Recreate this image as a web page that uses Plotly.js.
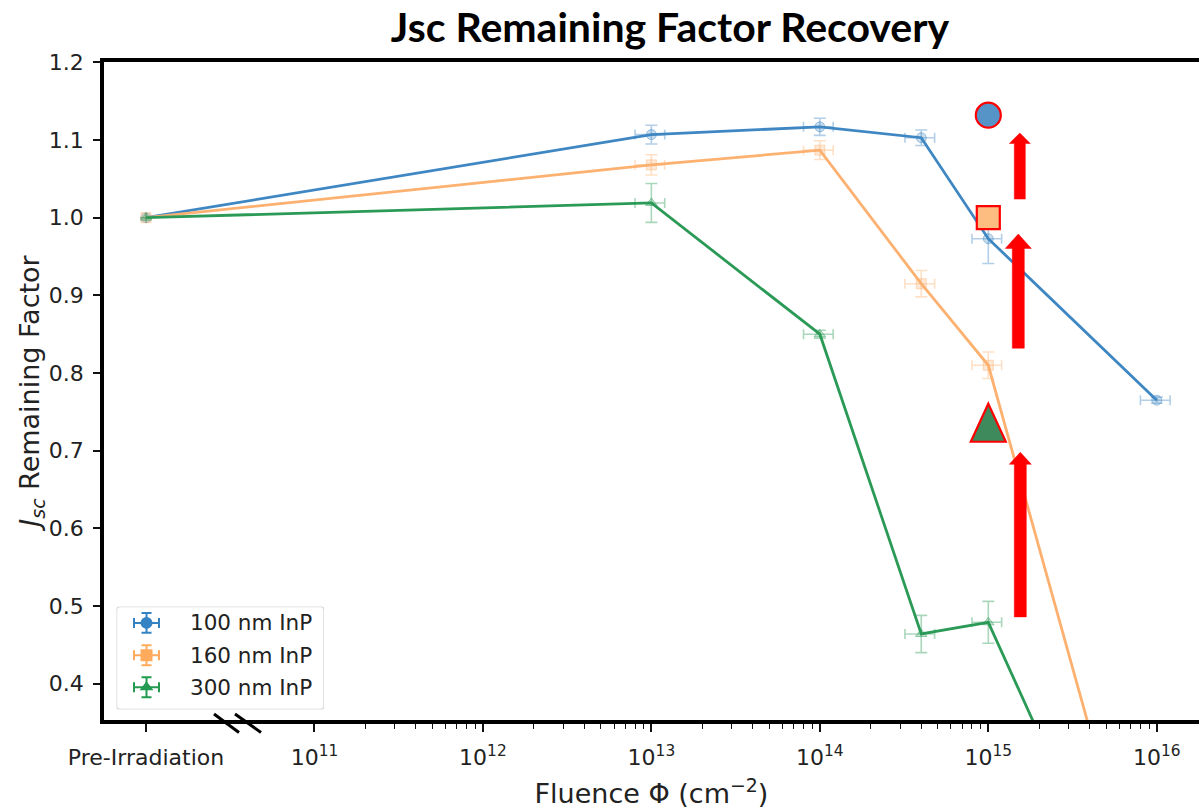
<!DOCTYPE html>
<html>
<head>
<meta charset="utf-8">
<script src="https://cdn.plot.ly/plotly-3.0.1.min.js"></script>
<style>
  html, body { margin: 0; padding: 0; background: #fff; }
  #chart { width: 1199px; height: 809px; }
</style>
</head>
<body>
<div id="chart"></div>
<script>
// Fluence steps (cm^-2). The unirradiated reference is placed at 1e10, left of the axis break.
const fluence = [1e10, 1e13, 1e14, 4e14, 1e15, 1e16];
const fluenceErr = [0, 2e12, 2e13, 8e13, 2e14, 2e15];

const seriesNames = ['100 nm InP', '160 nm InP', '300 nm InP'];
const jsc100 = [1.000, 1.107, 1.117, 1.103, 0.973, 0.765];
const jsc160 = [1.000, 1.068, 1.087, 0.915, 0.810, 0.031];
const jsc300 = [1.000, 1.019, 0.850, 0.464, 0.479, 0.000];
const err100 = [0, 0.012, 0.011, 0.010, 0.032, 0.004];
const err160 = [0, 0.013, 0.012, 0.017, 0.017, 0.010];
const err300 = [0, 0.025, 0.005, 0.024, 0.027, 0.010];

// Jsc remaining factor after recovery, measured at 1e15 cm^-2
const recoveredFluence = 1e15;
const recovered100 = 1.132;
const recovered160 = 1.000;
const recovered300 = 0.736;

// Recovery arrows, [start, tip] in remaining-factor units
const arrowSpans = [[1.024, 1.109], [0.832, 0.979], [0.486, 0.698]];

// Axis ticks
const xTickVals = [1e10, 1e11, 1e12, 1e13, 1e14, 1e15, 1e16];
const xTickText = ['Pre-Irradiation', '10<sup>11</sup>', '10<sup>12</sup>', '10<sup>13</sup>',
                   '10<sup>14</sup>', '10<sup>15</sup>', '10<sup>16</sup>'];
const yTickVals = [0.4, 0.5, 0.6, 0.7, 0.8, 0.9, 1.0, 1.1, 1.2];
const yTickText = ['0.4', '0.5', '0.6', '0.7', '0.8', '0.9', '1.0', '1.1', '1.2'];

// Log minor ticks from 10^11 upward (none across the break)
const xMinorVals = [];
for (let e = 11; e <= 15; e++) {
  for (let m = 2; m <= 9; m++) xMinorVals.push(m * Math.pow(10, e));
}

const colors = ['#3f87c3', '#fcb171', '#2b9a57'];
const legendColors = ['#3382c4', '#ffaa5c', '#239a4f'];
const symbols = ['circle', 'square', 'triangle-up'];

function rgba(hex, a) {
  const n = parseInt(hex.slice(1), 16);
  return `rgba(${(n >> 16) & 255},${(n >> 8) & 255},${n & 255},${a})`;
}

// Plot-area geometry in pixels
const W = 1199, H = 809;
const plotL = 104, plotR = 1199, plotT = 62, plotB = 720.5;
const paperX = p => (p - plotL) / (plotR - plotL);
const paperY = p => (plotB - p) / (plotB - plotT);

const font = 'DejaVu Sans';

function series(i, y, err) {
  const c = colors[i];
  return {
    type: 'scatter', mode: 'lines+markers', name: seriesNames[i],
    x: fluence, y: y, showlegend: false, hoverinfo: 'x+y+name',
    line: { color: c, width: 2.8 },
    marker: { symbol: symbols[i], size: 10, color: rgba(c, 0.28), opacity: 1,
              line: { color: rgba(c, 0.45), width: 1 } },
    error_y: { type: 'data', array: err, color: rgba(c, 0.4), thickness: 1.6, width: 6 },
    error_x: { type: 'data', array: fluenceErr, color: rgba(c, 0.4), thickness: 1.6, width: 5 }
  };
}

const traces = [
  series(0, jsc100, err100),
  series(1, jsc160, err160),
  series(2, jsc300, err300),
  {
    type: 'scatter', mode: 'markers', name: 'Recovered',
    x: [recoveredFluence, recoveredFluence], y: [recovered100, recovered160],
    showlegend: false,
    marker: { symbol: ['circle', 'square'], size: [25, 23], opacity: 1,
              color: ['#5693c6', '#fdbd80'], line: { color: '#ff0000', width: 2.2 } }
  }
];

// Legend drawn on a small inset axis measured in pixels
const legL = 116.5, legR = 324, legT = 607, legB = 710;
const legRowY = [16.3, 48.7, 80.7];
seriesNames.forEach((nm, i) => {
  traces.push({
    type: 'scatter', mode: 'markers', xaxis: 'x2', yaxis: 'y2',
    x: [30], y: [legRowY[i]], showlegend: false, hoverinfo: 'skip',
    marker: { symbol: symbols[i], size: 12, color: legendColors[i], opacity: 1 },
    error_x: { type: 'constant', value: 12.5, color: legendColors[i], thickness: 2, width: 5 },
    error_y: { type: 'constant', value: 10, color: legendColors[i], thickness: 2, width: 5 }
  });
});

const annotations = seriesNames.map((nm, i) => ({
  xref: 'x2', yref: 'y2', x: 71.5, y: legRowY[i], text: nm, showarrow: false,
  xanchor: 'left', yanchor: 'middle', font: { family: font, size: 21.5, color: '#222' }
}));

const shapes = [];

// legend frame with rounded corners
const lw = legR - legL, lh = legB - legT, r = 4;
shapes.push({
  type: 'path', xref: 'x2', yref: 'y2', layer: 'below',
  path: `M${r},0 L${lw - r},0 Q${lw},0 ${lw},${r} L${lw},${lh - r} Q${lw},${lh} ${lw - r},${lh} ` +
        `L${r},${lh} Q0,${lh} 0,${lh - r} L0,${r} Q0,0 ${r},0 Z`,
  fillcolor: 'rgba(255,255,255,0.85)', line: { color: '#dadada', width: 1.5 }
});

// axis-break marks on the fluence axis
[[214, 239], [235, 261]].forEach(([a, b]) => {
  shapes.push({
    type: 'line', xref: 'paper', yref: 'paper', layer: 'above',
    x0: paperX(a), y0: paperY(714.5), x1: paperX(b), y1: paperY(733),
    line: { color: '#000', width: 3 }
  });
});

// recovered 300 nm point: tall triangle anchored on its value
shapes.push({
  type: 'path', xref: 'x', yref: 'y', xsizemode: 'pixel', ysizemode: 'pixel',
  xanchor: recoveredFluence, yanchor: recovered300, layer: 'above',
  path: 'M0,19 L17.5,-19 L-17.5,-19 Z',
  fillcolor: '#3e8a5d', line: { color: '#ff0000', width: 2.2 }
});

// red recovery arrows, offset to the right of the 1e15 column
const arrowGeom = [
  { sx0: 26, sx1: 37, hx0: 21, hx1: 42, head: 0.0135 },
  { sx0: 24, sx1: 36, hx0: 17, hx1: 43, head: 0.0185 },
  { sx0: 26, sx1: 38, hx0: 21, hx1: 43, head: 0.0155 }
];
arrowSpans.forEach(([y0, y1], i) => {
  const g = arrowGeom[i];
  const yb = y1 - g.head;
  const mid = (g.hx0 + g.hx1) / 2;
  shapes.push({
    type: 'path', xref: 'x', yref: 'y', xsizemode: 'pixel', xanchor: recoveredFluence,
    layer: 'above',
    path: `M${g.sx0},${y0} L${g.sx1},${y0} L${g.sx1},${yb} L${g.hx1},${yb} ` +
          `L${mid},${y1} L${g.hx0},${yb} L${g.sx0},${yb} Z`,
    fillcolor: '#ff0000', line: { color: '#ff0000', width: 0.5 }
  });
});

const layout = {
  width: W, height: H,
  margin: { l: plotL, r: W - plotR, t: plotT, b: H - plotB },
  paper_bgcolor: '#ffffff', plot_bgcolor: '#ffffff',
  showlegend: false,
  title: {
    text: '<b>Jsc Remaining Factor Recovery</b>',
    font: { family: 'Lato', size: 41, color: '#000' },
    x: 670 / W, xref: 'container', xanchor: 'center',
    y: 1 - 28 / H, yref: 'container', yanchor: 'middle'
  },
  xaxis: {
    type: 'log', range: [10 - 42 / 168.46, 10 + (plotR - 146) / 168.46],
    tickmode: 'array', tickvals: xTickVals, ticktext: xTickText,
    ticks: 'outside', ticklen: 8, tickwidth: 1.6, tickcolor: '#111',
    minor: { tickmode: 'array', tickvals: xMinorVals, ticks: 'outside', ticklen: 5,
             tickwidth: 1.3, tickcolor: '#111', showgrid: false },
    showgrid: false, zeroline: false,
    showline: true, linecolor: '#000', linewidth: 3.5, mirror: true,
    tickfont: { family: font, size: 22, color: '#222' },
    ticklabelstandoff: 7,
    title: { text: 'Fluence Φ (cm<sup>−2</sup>)', font: { family: font, size: 27, color: '#222' },
             standoff: 16 }
  },
  yaxis: {
    range: [1.2 - (plotB - 61.7) / 778, 1.2005],
    tickmode: 'array', tickvals: yTickVals, ticktext: yTickText,
    ticks: 'outside', ticklen: 7, tickwidth: 1.6, tickcolor: '#111',
    showgrid: false, zeroline: false,
    showline: true, linecolor: '#000', linewidth: 3.5,
    tickfont: { family: font, size: 22, color: '#222' },
    ticklabelstandoff: 5,
    title: { text: '<i>J</i><sub><i>sc</i></sub> Remaining Factor',
             font: { family: font, size: 27, color: '#222' }, standoff: 0 }
  },
  xaxis2: {
    domain: [paperX(legL), paperX(legR)], range: [0, legR - legL],
    anchor: 'y2', visible: false, fixedrange: true
  },
  yaxis2: {
    domain: [paperY(legB), paperY(legT)], range: [legB - legT, 0],
    anchor: 'x2', visible: false, fixedrange: true
  },
  annotations: annotations,
  shapes: shapes
};

Plotly.newPlot('chart', traces, layout, { displayModeBar: false });
</script>
</body>
</html>
